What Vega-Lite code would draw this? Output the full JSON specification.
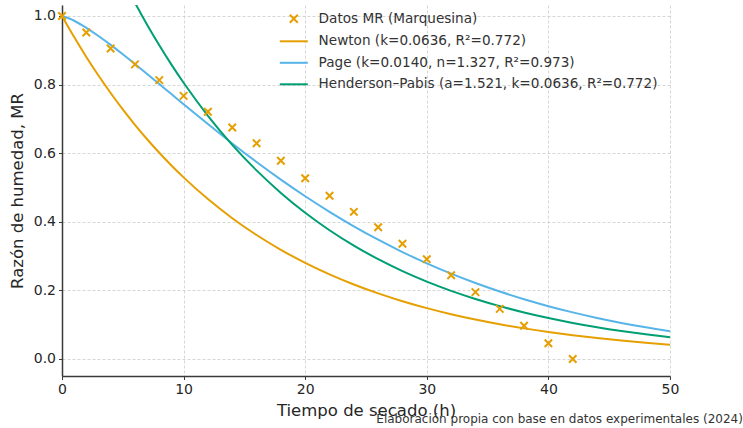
{
  "$schema": "https://vega.github.io/schema/vega-lite/v6.json",
  "autosize": "none",
  "width": 608,
  "height": 371,
  "padding": {"left": 62, "top": 5, "right": 73, "bottom": 52},
  "background": "white",
  "title": {
    "text": "Elaboración propia con base en datos experimentales (2024)",
    "orient": "bottom",
    "anchor": "end",
    "font": "DejaVu Sans",
    "fontSize": 12,
    "fontWeight": "normal",
    "color": "#333333",
    "dx": 64,
    "dy": -5,
    "offset": 0
  },
  "config": {
    "font": "DejaVu Sans",
    "view": {"stroke": null},
    "axis": {
      "labelFont": "DejaVu Sans",
      "labelFontSize": 14,
      "labelColor": "#262626",
      "labelFlush": false,
      "titleFont": "DejaVu Sans",
      "titleFontSize": 16.5,
      "titleFontWeight": "normal",
      "titleColor": "#262626",
      "domainColor": "#3a3a3a",
      "domainWidth": 1.5,
      "tickColor": "#3a3a3a",
      "tickSize": 3.5,
      "tickWidth": 1,
      "labelPadding": 3,
      "gridColor": "#cccccc",
      "gridDash": [3, 2],
      "gridWidth": 0.8
    }
  },
  "datasets": {
    "obs": [
      {"s": "Datos MR (Marquesina)", "t": 0, "mr": 1.0},
      {"s": "Datos MR (Marquesina)", "t": 2, "mr": 0.952},
      {"s": "Datos MR (Marquesina)", "t": 4, "mr": 0.905},
      {"s": "Datos MR (Marquesina)", "t": 6, "mr": 0.859},
      {"s": "Datos MR (Marquesina)", "t": 8, "mr": 0.813},
      {"s": "Datos MR (Marquesina)", "t": 10, "mr": 0.767},
      {"s": "Datos MR (Marquesina)", "t": 12, "mr": 0.721},
      {"s": "Datos MR (Marquesina)", "t": 14, "mr": 0.675},
      {"s": "Datos MR (Marquesina)", "t": 16, "mr": 0.629},
      {"s": "Datos MR (Marquesina)", "t": 18, "mr": 0.578},
      {"s": "Datos MR (Marquesina)", "t": 20, "mr": 0.527},
      {"s": "Datos MR (Marquesina)", "t": 22, "mr": 0.476},
      {"s": "Datos MR (Marquesina)", "t": 24, "mr": 0.429},
      {"s": "Datos MR (Marquesina)", "t": 26, "mr": 0.384},
      {"s": "Datos MR (Marquesina)", "t": 28, "mr": 0.336},
      {"s": "Datos MR (Marquesina)", "t": 30, "mr": 0.291},
      {"s": "Datos MR (Marquesina)", "t": 32, "mr": 0.244},
      {"s": "Datos MR (Marquesina)", "t": 34, "mr": 0.195},
      {"s": "Datos MR (Marquesina)", "t": 36, "mr": 0.146},
      {"s": "Datos MR (Marquesina)", "t": 38, "mr": 0.097},
      {"s": "Datos MR (Marquesina)", "t": 40, "mr": 0.046},
      {"s": "Datos MR (Marquesina)", "t": 42, "mr": 0.0}
    ],
    "models": [
      {"s": "Newton (k=0.0636, R²=0.772)", "t": 0, "mr": 1.0},
      {"s": "Newton (k=0.0636, R²=0.772)", "t": 1, "mr": 0.93838},
      {"s": "Newton (k=0.0636, R²=0.772)", "t": 2, "mr": 0.88056},
      {"s": "Newton (k=0.0636, R²=0.772)", "t": 3, "mr": 0.8263},
      {"s": "Newton (k=0.0636, R²=0.772)", "t": 4, "mr": 0.77538},
      {"s": "Newton (k=0.0636, R²=0.772)", "t": 5, "mr": 0.7276},
      {"s": "Newton (k=0.0636, R²=0.772)", "t": 6, "mr": 0.68277},
      {"s": "Newton (k=0.0636, R²=0.772)", "t": 7, "mr": 0.6407},
      {"s": "Newton (k=0.0636, R²=0.772)", "t": 8, "mr": 0.60122},
      {"s": "Newton (k=0.0636, R²=0.772)", "t": 9, "mr": 0.56417},
      {"s": "Newton (k=0.0636, R²=0.772)", "t": 10, "mr": 0.52941},
      {"s": "Newton (k=0.0636, R²=0.772)", "t": 12, "mr": 0.46617},
      {"s": "Newton (k=0.0636, R²=0.772)", "t": 14, "mr": 0.41049},
      {"s": "Newton (k=0.0636, R²=0.772)", "t": 16, "mr": 0.36146},
      {"s": "Newton (k=0.0636, R²=0.772)", "t": 18, "mr": 0.31829},
      {"s": "Newton (k=0.0636, R²=0.772)", "t": 20, "mr": 0.28027},
      {"s": "Newton (k=0.0636, R²=0.772)", "t": 22, "mr": 0.24679},
      {"s": "Newton (k=0.0636, R²=0.772)", "t": 24, "mr": 0.21732},
      {"s": "Newton (k=0.0636, R²=0.772)", "t": 26, "mr": 0.19136},
      {"s": "Newton (k=0.0636, R²=0.772)", "t": 28, "mr": 0.1685},
      {"s": "Newton (k=0.0636, R²=0.772)", "t": 30, "mr": 0.14837},
      {"s": "Newton (k=0.0636, R²=0.772)", "t": 32, "mr": 0.13065},
      {"s": "Newton (k=0.0636, R²=0.772)", "t": 34, "mr": 0.11505},
      {"s": "Newton (k=0.0636, R²=0.772)", "t": 36, "mr": 0.10131},
      {"s": "Newton (k=0.0636, R²=0.772)", "t": 38, "mr": 0.08921},
      {"s": "Newton (k=0.0636, R²=0.772)", "t": 40, "mr": 0.07855},
      {"s": "Newton (k=0.0636, R²=0.772)", "t": 42, "mr": 0.06917},
      {"s": "Newton (k=0.0636, R²=0.772)", "t": 44, "mr": 0.06091},
      {"s": "Newton (k=0.0636, R²=0.772)", "t": 46, "mr": 0.05363},
      {"s": "Newton (k=0.0636, R²=0.772)", "t": 48, "mr": 0.04723},
      {"s": "Newton (k=0.0636, R²=0.772)", "t": 50, "mr": 0.04159},
      {"s": "Page (k=0.0140, n=1.327, R²=0.973)", "t": 0, "mr": 1.0},
      {"s": "Page (k=0.0140, n=1.327, R²=0.973)", "t": 1, "mr": 0.9861},
      {"s": "Page (k=0.0140, n=1.327, R²=0.973)", "t": 2, "mr": 0.96548},
      {"s": "Page (k=0.0140, n=1.327, R²=0.973)", "t": 3, "mr": 0.94162},
      {"s": "Page (k=0.0140, n=1.327, R²=0.973)", "t": 4, "mr": 0.91566},
      {"s": "Page (k=0.0140, n=1.327, R²=0.973)", "t": 5, "mr": 0.88826},
      {"s": "Page (k=0.0140, n=1.327, R²=0.973)", "t": 6, "mr": 0.85992},
      {"s": "Page (k=0.0140, n=1.327, R²=0.973)", "t": 7, "mr": 0.83096},
      {"s": "Page (k=0.0140, n=1.327, R²=0.973)", "t": 8, "mr": 0.80166},
      {"s": "Page (k=0.0140, n=1.327, R²=0.973)", "t": 9, "mr": 0.77223},
      {"s": "Page (k=0.0140, n=1.327, R²=0.973)", "t": 10, "mr": 0.74286},
      {"s": "Page (k=0.0140, n=1.327, R²=0.973)", "t": 12, "mr": 0.68481},
      {"s": "Page (k=0.0140, n=1.327, R²=0.973)", "t": 14, "mr": 0.62841},
      {"s": "Page (k=0.0140, n=1.327, R²=0.973)", "t": 16, "mr": 0.57429},
      {"s": "Page (k=0.0140, n=1.327, R²=0.973)", "t": 18, "mr": 0.52286},
      {"s": "Page (k=0.0140, n=1.327, R²=0.973)", "t": 20, "mr": 0.47438},
      {"s": "Page (k=0.0140, n=1.327, R²=0.973)", "t": 22, "mr": 0.429},
      {"s": "Page (k=0.0140, n=1.327, R²=0.973)", "t": 24, "mr": 0.38679},
      {"s": "Page (k=0.0140, n=1.327, R²=0.973)", "t": 26, "mr": 0.34773},
      {"s": "Page (k=0.0140, n=1.327, R²=0.973)", "t": 28, "mr": 0.31177},
      {"s": "Page (k=0.0140, n=1.327, R²=0.973)", "t": 30, "mr": 0.27881},
      {"s": "Page (k=0.0140, n=1.327, R²=0.973)", "t": 32, "mr": 0.24872},
      {"s": "Page (k=0.0140, n=1.327, R²=0.973)", "t": 34, "mr": 0.22135},
      {"s": "Page (k=0.0140, n=1.327, R²=0.973)", "t": 36, "mr": 0.19655},
      {"s": "Page (k=0.0140, n=1.327, R²=0.973)", "t": 38, "mr": 0.17417},
      {"s": "Page (k=0.0140, n=1.327, R²=0.973)", "t": 40, "mr": 0.15398},
      {"s": "Page (k=0.0140, n=1.327, R²=0.973)", "t": 42, "mr": 0.13587},
      {"s": "Page (k=0.0140, n=1.327, R²=0.973)", "t": 44, "mr": 0.11965},
      {"s": "Page (k=0.0140, n=1.327, R²=0.973)", "t": 46, "mr": 0.10517},
      {"s": "Page (k=0.0140, n=1.327, R²=0.973)", "t": 48, "mr": 0.09227},
      {"s": "Page (k=0.0140, n=1.327, R²=0.973)", "t": 50, "mr": 0.0808},
      {"s": "Henderson–Pabis (a=1.521, k=0.0636, R²=0.772)", "t": 5, "mr": 1.1067},
      {"s": "Henderson–Pabis (a=1.521, k=0.0636, R²=0.772)", "t": 6, "mr": 1.0385},
      {"s": "Henderson–Pabis (a=1.521, k=0.0636, R²=0.772)", "t": 7, "mr": 0.9745},
      {"s": "Henderson–Pabis (a=1.521, k=0.0636, R²=0.772)", "t": 8, "mr": 0.91446},
      {"s": "Henderson–Pabis (a=1.521, k=0.0636, R²=0.772)", "t": 9, "mr": 0.8581},
      {"s": "Henderson–Pabis (a=1.521, k=0.0636, R²=0.772)", "t": 10, "mr": 0.80523},
      {"s": "Henderson–Pabis (a=1.521, k=0.0636, R²=0.772)", "t": 12, "mr": 0.70904},
      {"s": "Henderson–Pabis (a=1.521, k=0.0636, R²=0.772)", "t": 14, "mr": 0.62436},
      {"s": "Henderson–Pabis (a=1.521, k=0.0636, R²=0.772)", "t": 16, "mr": 0.54978},
      {"s": "Henderson–Pabis (a=1.521, k=0.0636, R²=0.772)", "t": 18, "mr": 0.48412},
      {"s": "Henderson–Pabis (a=1.521, k=0.0636, R²=0.772)", "t": 20, "mr": 0.42629},
      {"s": "Henderson–Pabis (a=1.521, k=0.0636, R²=0.772)", "t": 22, "mr": 0.37537},
      {"s": "Henderson–Pabis (a=1.521, k=0.0636, R²=0.772)", "t": 24, "mr": 0.33054},
      {"s": "Henderson–Pabis (a=1.521, k=0.0636, R²=0.772)", "t": 26, "mr": 0.29106},
      {"s": "Henderson–Pabis (a=1.521, k=0.0636, R²=0.772)", "t": 28, "mr": 0.25629},
      {"s": "Henderson–Pabis (a=1.521, k=0.0636, R²=0.772)", "t": 30, "mr": 0.22567},
      {"s": "Henderson–Pabis (a=1.521, k=0.0636, R²=0.772)", "t": 32, "mr": 0.19872},
      {"s": "Henderson–Pabis (a=1.521, k=0.0636, R²=0.772)", "t": 34, "mr": 0.17499},
      {"s": "Henderson–Pabis (a=1.521, k=0.0636, R²=0.772)", "t": 36, "mr": 0.15409},
      {"s": "Henderson–Pabis (a=1.521, k=0.0636, R²=0.772)", "t": 38, "mr": 0.13569},
      {"s": "Henderson–Pabis (a=1.521, k=0.0636, R²=0.772)", "t": 40, "mr": 0.11947},
      {"s": "Henderson–Pabis (a=1.521, k=0.0636, R²=0.772)", "t": 42, "mr": 0.10521},
      {"s": "Henderson–Pabis (a=1.521, k=0.0636, R²=0.772)", "t": 44, "mr": 0.09264},
      {"s": "Henderson–Pabis (a=1.521, k=0.0636, R²=0.772)", "t": 46, "mr": 0.08157},
      {"s": "Henderson–Pabis (a=1.521, k=0.0636, R²=0.772)", "t": 48, "mr": 0.07184},
      {"s": "Henderson–Pabis (a=1.521, k=0.0636, R²=0.772)", "t": 50, "mr": 0.06326}
    ]
  },
  "encoding": {
    "x": {
      "field": "t",
      "type": "quantitative",
      "scale": {"domain": [0, 50], "nice": false, "zero": false},
      "axis": {"values": [0, 10, 20, 30, 40, 50], "title": "Tiempo de secado (h)", "titlePadding": 6, "format": "d"}
    },
    "y": {
      "field": "mr",
      "type": "quantitative",
      "scale": {"domain": [-0.0496, 1.032], "nice": false, "zero": false},
      "axis": {"values": [0, 0.2, 0.4, 0.6, 0.8, 1.0], "format": ".1f", "title": "Razón de humedad, MR", "titlePadding": 8}
    },
    "color": {
      "field": "s",
      "type": "nominal",
      "scale": {
        "domain": ["Datos MR (Marquesina)", "Newton (k=0.0636, R²=0.772)", "Page (k=0.0140, n=1.327, R²=0.973)", "Henderson–Pabis (a=1.521, k=0.0636, R²=0.772)"],
        "range": ["#E69F00", "#E69F00", "#56B4E9", "#009E73"]
      },
      "legend": {
        "title": null,
        "orient": "none",
        "legendX": 225,
        "legendY": 7,
        "padding": 0,
        "labelFont": "DejaVu Sans",
        "labelFontSize": 13.6,
        "labelColor": "#333333",
        "symbolSize": 64,
        "symbolStrokeWidth": 2,
        "labelOffset": 18,
        "rowPadding": 6.5,
        "labelLimit": 500
      }
    }
  },
  "layer": [
    {
      "data": {"name": "models"},
      "mark": {"type": "line", "strokeWidth": 2, "interpolate": "monotone", "clip": true}
    },
    {
      "data": {"name": "obs"},
      "mark": {"type": "point", "filled": false, "strokeWidth": 2, "size": 56, "opacity": 1},
      "encoding": {
        "shape": {
          "field": "s",
          "type": "nominal",
          "scale": {
            "domain": ["Datos MR (Marquesina)", "Newton (k=0.0636, R²=0.772)", "Page (k=0.0140, n=1.327, R²=0.973)", "Henderson–Pabis (a=1.521, k=0.0636, R²=0.772)"],
            "range": ["M-1,-1L1,1M-1,1L1,-1", "M-3.5,0L3.5,0", "M-3.5,0L3.5,0", "M-3.5,0L3.5,0"]
          },
          "legend": {
            "title": null,
            "orient": "none",
            "legendX": 225,
            "legendY": 7,
            "padding": 0,
            "labelFont": "DejaVu Sans",
            "labelFontSize": 13.6,
            "labelColor": "#333333",
            "symbolSize": 64,
            "symbolStrokeWidth": 2,
            "labelOffset": 18,
            "rowPadding": 6.5,
            "labelLimit": 500
          }
        }
      }
    }
  ]
}
